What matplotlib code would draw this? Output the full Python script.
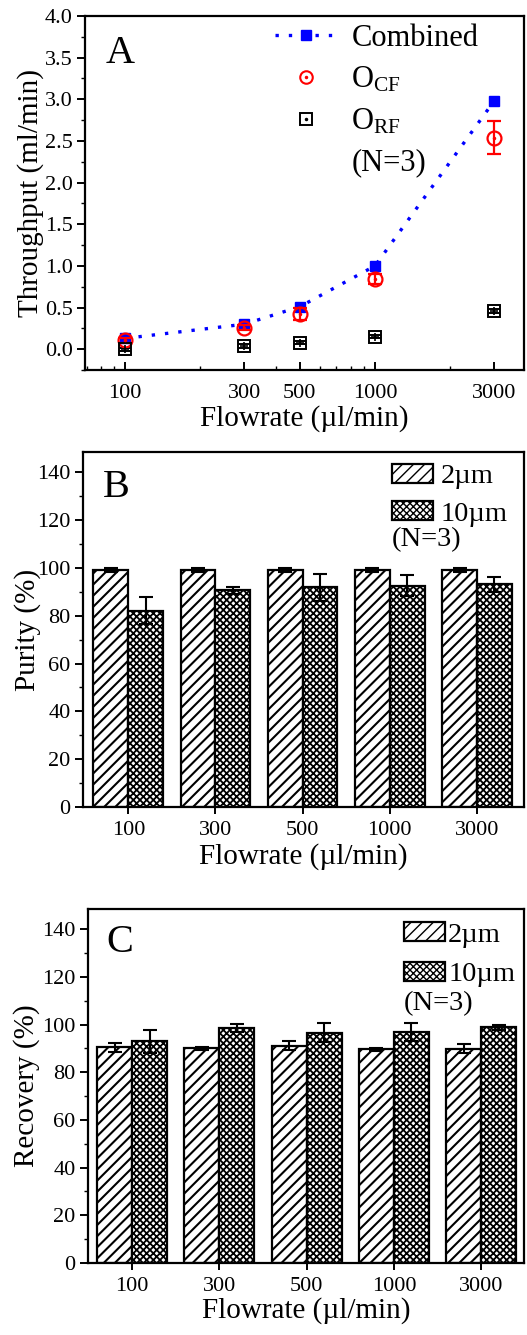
import matplotlib
matplotlib.use("Agg")
import matplotlib.pyplot as plt
import numpy as np
from matplotlib.lines import Line2D
from matplotlib.ticker import MultipleLocator, NullFormatter, FixedLocator, FixedFormatter

plt.rcParams['font.family'] = ['Liberation Serif', 'DejaVu Serif']
plt.rcParams['mathtext.fontset'] = 'custom'
plt.rcParams['mathtext.rm'] = 'Liberation Serif'
plt.rcParams['mathtext.it'] = 'Liberation Serif:italic'

# ---------------- data ----------------
flowrates = [100, 300, 500, 1000, 3000]
flow_labels = ['100', '300', '500', '1000', '3000']

combined = [0.13, 0.30, 0.51, 1.00, 2.98]
ocf = [0.11, 0.26, 0.42, 0.84, 2.54]
ocf_err = [0.03, 0.03, 0.07, 0.06, 0.20]
orf = [0.00, 0.04, 0.08, 0.15, 0.46]
orf_err = [0.02, 0.02, 0.02, 0.02, 0.02]

purity_2um = [99.2, 99.2, 99.2, 99.2, 99.2]
purity_2um_err = [0.7, 0.7, 0.7, 0.7, 0.7]
purity_10um = [82.1, 90.6, 91.9, 92.6, 93.1]
purity_10um_err = [5.7, 1.3, 5.6, 4.3, 3.1]

recovery_2um = [90.5, 90.0, 91.2, 89.6, 89.8]
recovery_2um_err = [1.8, 0.7, 1.8, 0.8, 1.9]
recovery_10um = [93.0, 98.5, 96.6, 96.8, 98.9]
recovery_10um_err = [4.9, 1.8, 4.0, 3.8, 1.1]

W, H = 527, 1335
fig = plt.figure(figsize=(W / 100, H / 100), dpi=100)


def ax_px(left, right, top, bottom):
    return fig.add_axes([left / W, 1 - bottom / H, (right - left) / W, (bottom - top) / H])


SPW = 1.6
TICK_FS = 16
LABEL_FS = 21
LETTER_FS = 29

# ---------------- Panel A ----------------
axA = ax_px(85, 524, 16, 370)
axA.set_xscale('log')
axA.plot(flowrates, combined, linestyle=(0, (1, 3.0)), color='blue', lw=2.4,
         marker='s', ms=7, mfc='blue', mec='blue', zorder=3)
axA.errorbar(flowrates, ocf, yerr=ocf_err, fmt='o', ms=10, mfc='none', mec='red',
             mew=1.6, ecolor='red', elinewidth=1.6, capsize=5, capthick=1.6, zorder=4)
axA.plot(flowrates, ocf, linestyle='none', marker='.', ms=3, color='red', zorder=5)
axA.errorbar(flowrates, orf, yerr=orf_err, fmt='s', ms=8, mfc='none', mec='black',
             mew=1.4, ecolor='black', elinewidth=1.2, capsize=4, capthick=1.2, zorder=4)
axA.plot(flowrates, orf, linestyle='none', marker='+', ms=6, mew=1.2, color='black', zorder=5)

axA.set_xlim(69, 3950)
axA.set_ylim(-0.25, 4.0)
axA.xaxis.set_major_locator(FixedLocator(flowrates))
axA.xaxis.set_major_formatter(FixedFormatter(flow_labels))
axA.xaxis.set_minor_formatter(NullFormatter())
axA.yaxis.set_major_locator(MultipleLocator(0.5))
axA.yaxis.set_minor_locator(MultipleLocator(0.25))
axA.yaxis.set_major_formatter(matplotlib.ticker.FormatStrFormatter('%.1f'))
axA.tick_params(axis='x', which='major', direction='in', length=6, width=1.4,
                labelsize=TICK_FS, pad=10)
axA.tick_params(axis='x', which='minor', direction='in', length=3, width=1.0)
axA.tick_params(axis='y', which='major', direction='out', length=6, width=1.4,
                labelsize=TICK_FS, pad=3)
axA.tick_params(axis='y', which='minor', direction='out', length=3, width=1.0)
for s in axA.spines.values():
    s.set_linewidth(SPW)
axA.set_ylabel('Throughput (ml/min)', fontsize=LABEL_FS)
axA.set_xlabel('Flowrate (\u00b5l/min)', fontsize=LABEL_FS)
axA.yaxis.set_label_coords(-0.125, 0.5)
axA.yaxis.label.set_va('center')
axA.xaxis.set_label_coords(0.5, -0.138)
axA.xaxis.label.set_va('center')
axA.text(0.048, 0.895, 'A', transform=axA.transAxes, fontsize=LETTER_FS,
         va='center', ha='left')

h_comb = Line2D([], [], linestyle=(0, (1, 3.0)), color='blue', lw=2.4, marker='s', ms=7)
h_ocf = (Line2D([], [], linestyle='none', marker='o', ms=9, mfc='none', mec='red', mew=1.5),
         Line2D([], [], linestyle='none', marker='.', ms=3, color='red'))
h_orf = (Line2D([], [], linestyle='none', marker='s', ms=8, mfc='none', mec='black', mew=1.4),
         Line2D([], [], linestyle='none', marker='.', ms=3, color='black'))
h_n = Line2D([], [], linestyle='none')
axA.legend([h_comb, h_ocf, h_orf, h_n],
           ['Combined', r'O$_{\mathrm{CF}}$', r'O$_{\mathrm{RF}}$', '(N=3)'],
           loc='upper left', bbox_to_anchor=(0.433, 0.978), frameon=False,
           fontsize=22, handlelength=2.0, handletextpad=0.5, labelspacing=0.4,
           borderpad=0, borderaxespad=0)

# ---------------- Panels B & C ----------------
x = np.arange(len(flow_labels))
bw = 0.4


def bar_panel(ax, v2, e2, v10, e10, letter, ylabel, ylab_x, xlab_y, letter_xy,
              leg_xy, textpad, lspace, n3_xy):
    ekw = dict(ecolor='black', elinewidth=1.5, capsize=5, capthick=1.5)
    with plt.rc_context({'hatch.linewidth': 1.5}):
        ax.bar(x - bw / 2, v2, bw, facecolor='white', edgecolor='black', hatch='///',
               lw=1.6, yerr=e2, error_kw=ekw, label='2\u00b5m')
    with plt.rc_context({'hatch.linewidth': 1.3}):
        ax.bar(x + bw / 2, v10, bw, facecolor='white', edgecolor='black', hatch='xxxxx',
               lw=1.6, yerr=e10, error_kw=ekw, label='10\u00b5m')
    ax.set_xticks(x)
    ax.set_xticklabels(flow_labels)
    ax.set_ylim(0, 148.5)
    ax.yaxis.set_major_locator(MultipleLocator(20))
    ax.yaxis.set_minor_locator(MultipleLocator(10))
    ax.tick_params(axis='x', which='major', direction='inout', length=10, width=1.4,
                   labelsize=TICK_FS, pad=5)
    ax.tick_params(axis='y', which='major', direction='out', length=6, width=1.4,
                   labelsize=TICK_FS, pad=3)
    ax.tick_params(axis='y', which='minor', direction='out', length=3, width=1.0)
    for s in ax.spines.values():
        s.set_linewidth(SPW)
    ax.set_ylabel(ylabel, fontsize=LABEL_FS)
    ax.set_xlabel('Flowrate (\u00b5l/min)', fontsize=LABEL_FS)
    ax.yaxis.set_label_coords(ylab_x, 0.5)
    ax.yaxis.label.set_va('center')
    ax.xaxis.set_label_coords(0.5, xlab_y)
    ax.xaxis.label.set_va('center')
    ax.text(letter_xy[0], letter_xy[1], letter, transform=ax.transAxes, fontsize=LETTER_FS,
            va='center', ha='left')
    ax.legend(loc='upper left', bbox_to_anchor=leg_xy, frameon=False, fontsize=20.5,
              handlelength=1.45, handleheight=0.65, handletextpad=textpad, labelspacing=lspace,
              borderpad=0, borderaxespad=0)
    ax.text(n3_xy[0], n3_xy[1], '(N=3)', transform=ax.transAxes, fontsize=20.5,
            va='center', ha='left')


axB = ax_px(83, 524, 452, 807)
axB.set_xlim(-0.52, 4.54)
bar_panel(axB, purity_2um, purity_2um_err, purity_10um, purity_10um_err, 'B', 'Purity (%)',
          -0.125, -0.14, (0.045, 0.90), ((392 - 83) / 441, 0.967), 0.25, 0.42,
          ((392 - 83) / 441, (807 - 540) / 355))

axC = ax_px(88, 524, 909, 1263)
axC.set_xlim(-0.505, 4.49)
bar_panel(axC, recovery_2um, recovery_2um_err, recovery_10um, recovery_10um_err, 'C',
          'Recovery (%)', -0.14, -0.133, (0.041, 0.904), ((404 - 88) / 436, 0.962), 0.1, 0.48,
          ((404 - 88) / 436, (1263 - 1004) / 354))

fig.savefig('out.png', dpi=100)
